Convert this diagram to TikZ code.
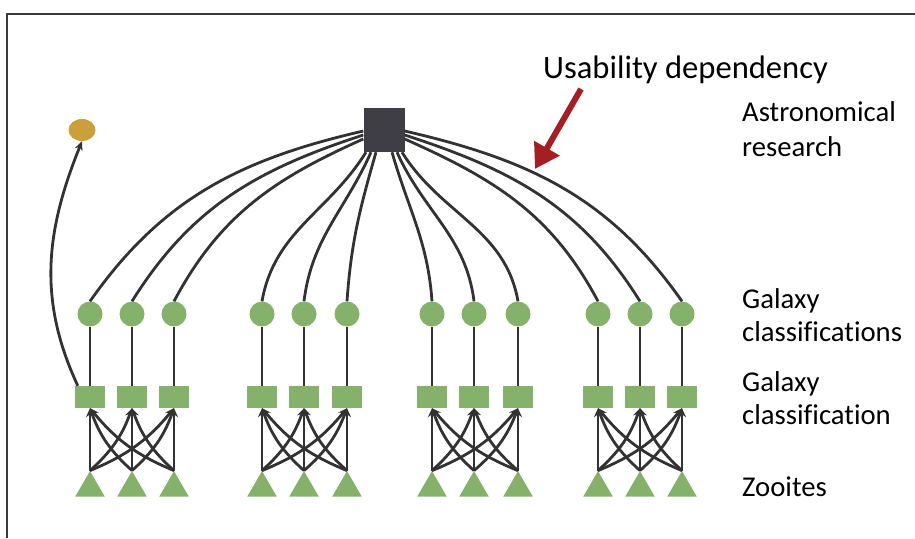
\documentclass[tikz,border=0pt]{standalone}
\usepackage{fontspec}
\setmainfont{Carlito}[Ligatures=NoCommon]
\usetikzlibrary{shapes.geometric,arrows.meta}
\definecolor{grn}{RGB}{133,178,106}
\definecolor{edgecol}{RGB}{50,50,52}
\definecolor{topsq}{RGB}{62,62,68}
\definecolor{goldc}{RGB}{201,160,58}
\definecolor{redarrow}{RGB}{165,30,35}
\definecolor{framec}{RGB}{60,60,60}
\begin{document}
\begin{tikzpicture}[x=1pt,y=1pt,
  circ/.style={circle,fill=grn,minimum size=25pt,inner sep=0pt},
  sqbox/.style={rectangle,fill=grn,minimum width=30pt,minimum height=22pt,inner sep=0pt},
  tri/.style={regular polygon,regular polygon sides=3,fill=grn,minimum size=34pt,inner sep=0pt},
  con/.style={draw=edgecol,line width=2.8pt},
  arr/.style={con,-{Stealth[length=9pt,width=8pt]}},
  lab/.style={anchor=base west,inner sep=0pt,font=\fontsize{28.7}{33}\selectfont},
  head/.style={anchor=base west,inner sep=0pt,font=\fontsize{32.6}{39}\selectfont}]
\useasboundingbox (0,0) rectangle (915,-538);
\draw[framec,line width=1.5pt] (7,-538) -- (7,-14) -- (915,-14);

% top square
\node[rectangle,fill=topsq,minimum width=41pt,minimum height=44pt,inner sep=0pt] (top) at (384,-130) {};
% gold ellipse
\node[ellipse,fill=goldc,minimum width=27pt,minimum height=22pt,inner sep=0pt] (gold) at (82,-130) {};

% groups
\foreach \i/\x in {1/90,2/132,3/174,4/262,5/304,6/347,7/432,8/474,9/518,10/598,11/640,12/682}{
  \node[circ] (c\i) at (\x,-314) {};
  \node[sqbox] (s\i) at (\x,-397) {};
  \node[tri] (t\i) at (\x,-488) {};
  \draw[con] (s\i.north) -- (c\i.south);
}

% triangle -> square edges
\foreach \g in {0,3,6,9}{
  \pgfmathtruncatemacro{\a}{\g+1}
  \pgfmathtruncatemacro{\b}{\g+2}
  \pgfmathtruncatemacro{\c}{\g+3}
  \draw[arr] (t\a.north) -- (s\a.south);
  \draw[arr] (t\b.north) -- (s\b.south);
  \draw[arr] (t\c.north) -- (s\c.south);
  \draw[arr] (t\a.north) to[bend right=14] (s\b.south);
  \draw[arr] (t\a.north) to[bend right=14] (s\c.south);
  \draw[arr] (t\b.north) to[bend right=14] (s\c.south);
  \draw[arr] (t\b.north) to[bend left=14] (s\a.south);
  \draw[arr] (t\c.north) to[bend left=14] (s\a.south);
  \draw[arr] (t\c.north) to[bend left=14] (s\b.south);
}

% circles -> top square
\draw[con] (c1.north) to[out=55,in=193] ([yshift=-1pt]top.west);
\draw[con] (c2.north) to[out=58,in=198] ([yshift=-5pt]top.west);
\draw[con] (c3.north) to[out=62,in=204] ([yshift=-9pt]top.west);
\draw[con] (c4.north) to[out=80,in=238] ([xshift=-18pt]top.south);
\draw[con] (c5.north) to[out=83,in=246] ([xshift=-13pt]top.south);
\draw[con] (c6.north) to[out=86,in=254] ([xshift=-8pt]top.south);
\draw[con] (c7.north) to[out=94,in=286] ([xshift=8pt]top.south);
\draw[con] (c8.north) to[out=97,in=294] ([xshift=13pt]top.south);
\draw[con] (c9.north) to[out=100,in=302] ([xshift=18pt]top.south);
\draw[con] (c10.north) to[out=118,in=-24] ([yshift=-9pt]top.east);
\draw[con] (c11.north) to[out=122,in=-18] ([yshift=-5pt]top.east);
\draw[con] (c12.north) to[out=125,in=-13] ([yshift=-1pt]top.east);

% dependency to gold ellipse
\draw[arr] ([xshift=3pt]s1.north west) to[out=115,in=248] (gold.south);

% red arrow
\coordinate (ra) at (581,-89);
\coordinate (rb) at (535,-169);
\draw[redarrow,line width=6pt,-{Triangle[length=24pt,width=28pt]}] (ra) -- (rb);

% labels
\node[head] (lu) at (543,-78) {Usability dependency};
\node[lab] (la1) at (742,-121) {Astronomical};
\node[lab] (la2) at (742,-156) {research};
\node[lab] (lg1) at (742,-308) {Galaxy};
\node[lab] (lg2) at (742,-341) {classifications};
\node[lab] (lh1) at (742,-391) {Galaxy};
\node[lab] (lh2) at (742,-424) {classification};
\node[lab] (lz) at (742,-496) {Zooites};
\end{tikzpicture}
\end{document}
